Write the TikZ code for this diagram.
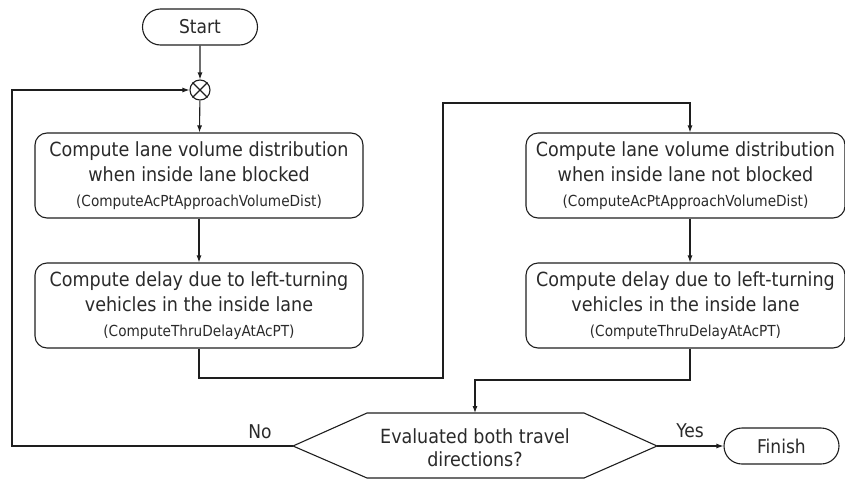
\documentclass[tikz,border=0pt]{standalone}
\usepackage{fontspec}
\setmainfont{DejaVu Sans Condensed}
\usetikzlibrary{arrows.meta,shapes.misc}
\definecolor{ink}{HTML}{1E1E1E}
\definecolor{txt}{HTML}{2A2A2A}
\begin{document}
\begin{tikzpicture}[x=1pt,y=-1pt, color=ink, line width=1.1pt,
  flow/.style={-{Latex[length=7pt,width=5pt]}},
  terminal/.style={draw=ink, rounded rectangle, minimum width=115pt, minimum height=36pt,
    inner sep=0pt, text=txt, font=\fontsize{19}{23}\selectfont},
  process/.style={draw=ink, rounded corners=12pt, minimum height=85pt, inner sep=0pt,
    align=center, text=txt, font=\fontsize{19.5}{25}\selectfont},
  label/.style={text=txt, inner sep=0pt, font=\fontsize{19}{23}\selectfont},
  code/.style={font=\fontsize{15.2}{25}\selectfont}]
\useasboundingbox (0,0) rectangle (845,479);
\clip (0,0) rectangle (845,479);

% terminals and junction
\node[terminal] (start) at (200,27) {Start};
\node[draw=ink, circle, minimum size=20pt, inner sep=0pt] (j) at (200,90) {};
\draw (j.north west) -- (j.south east);
\draw (j.north east) -- (j.south west);

% left column: inside lane blocked
\node[process, minimum width=328pt] (b1) at (199,175.5)
  {Compute lane volume distribution\\when inside lane blocked\\{\fontsize{15.2}{25}\selectfont (ComputeAcPtApproachVolumeDist)}};
\node[process, minimum width=328pt] (b2) at (199,305.5)
  {Compute delay due to left-turning\\vehicles in the inside lane\\{\fontsize{15.2}{25}\selectfont (ComputeThruDelayAtAcPT)}};

% right column: inside lane not blocked
\node[process, minimum width=319pt] (b3) at (685.5,175.5)
  {Compute lane volume distribution\\when inside lane not blocked\\{\fontsize{15.2}{25}\selectfont (ComputeAcPtApproachVolumeDist)}};
\node[process, minimum width=319pt] (b4) at (685.5,305.5)
  {Compute delay due to left-turning\\vehicles in the inside lane\\{\fontsize{15.2}{25}\selectfont (ComputeThruDelayAtAcPT)}};

% decision hexagon
\node[label, align=center, font=\fontsize{19.5}{23}\selectfont] (dec) at (475,448)
  {Evaluated both travel\\directions?};
\coordinate (dL) at (293,446);
\coordinate (dTL) at (367,413);
\coordinate (dT) at (475,413);
\coordinate (dTR) at (584,413);
\coordinate (dR) at (657,446);
\coordinate (dBR) at (584,478);
\coordinate (dBL) at (367,478);
\draw (dL) -- (dTL) -- (dTR) -- (dR) -- (dBR) -- (dBL) -- cycle;

\node[terminal] (finish) at (781.5,446) {Finish};

% connector bends
\coordinate (c1) at (443,378);
\coordinate (c2) at (443,103);
\coordinate (c3) at (690,103);
\coordinate (m1) at (690,380);
\coordinate (m2) at (475,380);
\coordinate (loop) at (12,446);

% connectors
\draw[flow] (start) -- (j);
\draw[flow] (j) -- (b1);
\draw[flow] (b1) -- (b2);
\draw[flow] (b2.south) |- (c1) -- (c2) -- (c3) -- (c3 |- b3.north);
\draw[flow] (c3 |- b3.south) -- (c3 |- b4.north);
\draw[flow] (c3 |- b4.south) -- (m1) -- (m2) -- (dT);
\draw[flow] (dL) -- (loop) |- (j.west);
\draw[flow] (dR) -- (finish.west);

% branch labels
\node[label] (no) at (260,432) {No};
\node[label] (yes) at (690,431) {Yes};
\end{tikzpicture}
\end{document}
